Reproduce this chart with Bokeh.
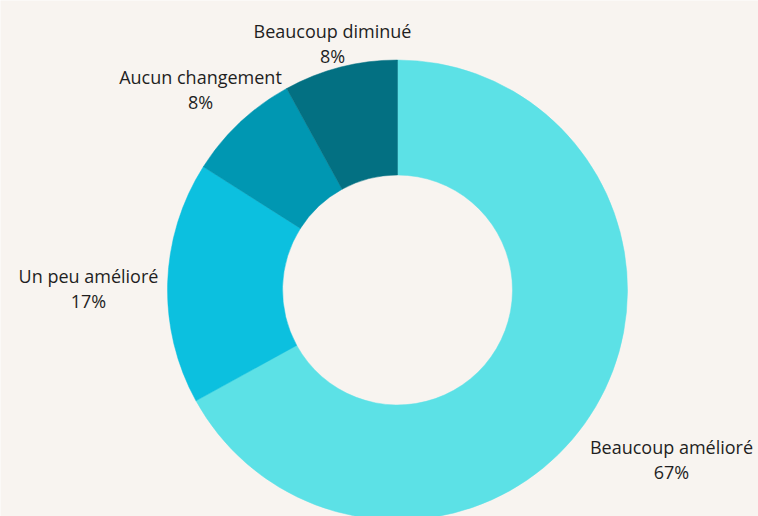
import math
from bokeh.plotting import figure
from bokeh.models import Range1d, ColumnDataSource
from bokeh.core.properties import value
from bokeh.embed import file_html
from bokeh.resources import INLINE

# ---- data ----
categories = ["Beaucoup amélioré", "Un peu amélioré", "Aucun changement", "Beaucoup diminué"]
shares = [67, 17, 8, 8]
colors = ["#5ce1e6", "#0cc0df", "#0097b2", "#037082"]

# ---- layout (screen pixels) ----
W, H = 758, 516
BG = "#f8f4f0"
cx, cy_screen = 397, 289.5
r_in, r_out = 115, 230
label_x = [671, 88, 200, 332]
label_base = [446, 275, 76, 30.5]   # screen y of first line baseline
line_gap = 25

total = sum(shares)
starts, ends = [], []
cum = 0
for c in shares:
    starts.append(math.pi / 2 - 2 * math.pi * cum / total)
    cum += c
    ends.append(math.pi / 2 - 2 * math.pi * cum / total)
pcts = [f"{round(c / total * 100)}%" for c in shares]

cy = H - cy_screen
src = ColumnDataSource(dict(
    x=[cx] * len(shares), y=[cy] * len(shares),
    start=starts, end=ends, color=colors,
))

p = figure(width=W, height=H, x_range=Range1d(0, W), y_range=Range1d(0, H),
           output_backend="svg", toolbar_location=None, min_border=0,
           background_fill_color=BG, border_fill_color=BG, outline_line_color=None)
p.axis.visible = False
p.grid.visible = False

p.annular_wedge(x="x", y="y", inner_radius=r_in, outer_radius=r_out,
                start_angle="start", end_angle="end", direction="clock",
                fill_color="color", line_color="color", line_width=0.5, source=src)

lsrc = ColumnDataSource(dict(
    x=label_x,
    y1=[H - b for b in label_base],
    y2=[H - b - line_gap for b in label_base],
    name=categories, pct=pcts,
))
for ycol, tcol in (("y1", "name"), ("y2", "pct")):
    p.text(x="x", y=ycol, text=tcol, source=lsrc, text_align="center",
           text_baseline="alphabetic", text_font=value("Open Sans"),
           text_font_size="18px", text_color="#1f1f1f")

open("out.html", "w").write(file_html(p, INLINE))
